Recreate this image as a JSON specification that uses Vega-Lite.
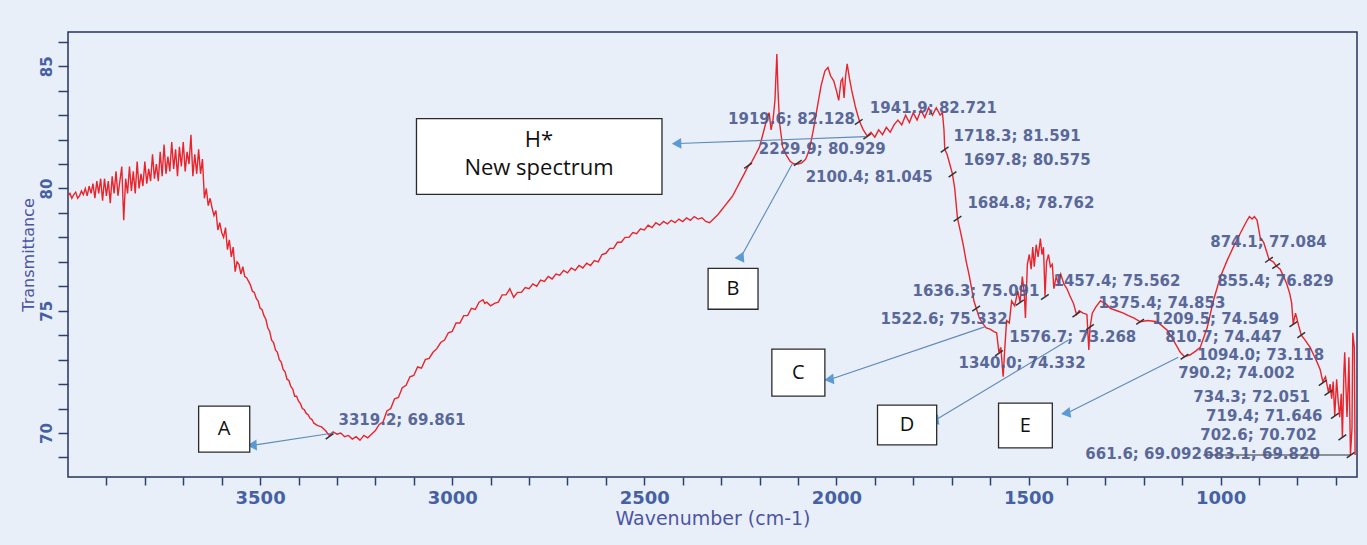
{
"$schema": "https://vega.github.io/schema/vega-lite/v6.json",
"width": 1289, "height": 445,
"autosize": {"type": "none"},
"padding": {"left": 68, "top": 32, "right": 10, "bottom": 68},
"background": "#e9eff8",
"config": {"view": {"stroke": "#23365f", "strokeWidth": 1.5, "fill": "#e9eff8"}},
"resolve": {"axis": {"x": "independent", "y": "independent"}},
"datasets": {
"spec": [
{"w":4000,"t":79.7},{"w":3995,"t":79.8},{"w":3990,"t":79.6},{"w":3985,"t":79.75},{"w":3980,"t":79.85},{"w":3975,"t":79.6},{"w":3970,"t":79.7},{"w":3965,"t":79.9},{"w":3960,"t":79.75},{"w":3955,"t":80.0},{"w":3950,"t":79.7},{"w":3945,"t":80.1},{"w":3940,"t":79.8},{"w":3935,"t":80.2},{"w":3930,"t":79.6},{"w":3925,"t":80.3},{"w":3920,"t":79.8},{"w":3915,"t":80.4},{"w":3910,"t":79.5},{"w":3905,"t":80.4},{"w":3900,"t":79.7},{"w":3895,"t":80.3},{"w":3890,"t":79.4},{"w":3885,"t":80.5},{"w":3880,"t":79.8},{"w":3875,"t":80.7},{"w":3870,"t":79.7},{"w":3865,"t":80.3},{"w":3860,"t":80.9},{"w":3855,"t":78.7},{"w":3850,"t":80.4},{"w":3845,"t":79.8},{"w":3840,"t":80.9},{"w":3835,"t":79.9},{"w":3830,"t":80.7},{"w":3825,"t":79.8},{"w":3820,"t":81.1},{"w":3815,"t":80.0},{"w":3810,"t":80.6},{"w":3805,"t":80.1},{"w":3800,"t":81.1},{"w":3795,"t":80.2},{"w":3790,"t":80.8},{"w":3785,"t":80.3},{"w":3780,"t":81.4},{"w":3775,"t":80.4},{"w":3770,"t":81.0},{"w":3765,"t":80.3},{"w":3760,"t":81.5},{"w":3755,"t":80.5},{"w":3750,"t":81.8},{"w":3745,"t":80.6},{"w":3740,"t":81.3},{"w":3735,"t":80.7},{"w":3730,"t":81.9},{"w":3725,"t":80.8},{"w":3720,"t":81.6},{"w":3715,"t":80.5},{"w":3710,"t":81.7},{"w":3705,"t":80.9},{"w":3700,"t":81.9},{"w":3695,"t":80.7},{"w":3690,"t":81.5},{"w":3685,"t":81.0},{"w":3680,"t":82.2},{"w":3675,"t":80.5},{"w":3670,"t":81.4},{"w":3665,"t":80.6},{"w":3660,"t":81.6},{"w":3655,"t":80.6},{"w":3650,"t":81.2},{"w":3645,"t":79.6},{"w":3640,"t":80.0},{"w":3635,"t":79.3},{"w":3630,"t":79.6},{"w":3625,"t":79.2},{"w":3620,"t":78.9},{"w":3615,"t":79.1},{"w":3610,"t":78.3},{"w":3605,"t":78.6},{"w":3600,"t":78.2},{"w":3595,"t":78.0},{"w":3590,"t":78.4},{"w":3585,"t":77.5},{"w":3580,"t":77.9},{"w":3575,"t":77.2},{"w":3570,"t":77.6},{"w":3565,"t":76.6},{"w":3560,"t":77.0},{"w":3555,"t":76.9},{"w":3550,"t":76.5},{"w":3545,"t":76.8},{"w":3540,"t":76.4},{"w":3535,"t":76.35},{"w":3530,"t":76.2},{"w":3525,"t":76.05},{"w":3520,"t":75.8},{"w":3515,"t":75.75},{"w":3510,"t":75.5},{"w":3505,"t":75.4},{"w":3500,"t":75.1},{"w":3495,"t":75.05},{"w":3490,"t":74.8},{"w":3485,"t":74.65},{"w":3480,"t":74.3},{"w":3475,"t":74.15},{"w":3470,"t":73.8},{"w":3465,"t":73.7},{"w":3460,"t":73.4},{"w":3455,"t":73.3},{"w":3450,"t":73.0},{"w":3445,"t":72.9},{"w":3440,"t":72.6},{"w":3435,"t":72.5},{"w":3430,"t":72.2},{"w":3425,"t":72.15},{"w":3420,"t":71.9},{"w":3415,"t":71.8},{"w":3410,"t":71.5},{"w":3405,"t":71.5},{"w":3400,"t":71.3},{"w":3395,"t":71.2},{"w":3390,"t":71.0},{"w":3385,"t":70.95},{"w":3380,"t":70.8},{"w":3375,"t":70.75},{"w":3370,"t":70.6},{"w":3365,"t":70.55},{"w":3360,"t":70.4},{"w":3350,"t":70.3},{"w":3340,"t":70.25},{"w":3330,"t":70.1},{"w":3320,"t":69.9},{"w":3310,"t":70.05},{"w":3300,"t":69.95},{"w":3290,"t":70.0},{"w":3280,"t":69.85},{"w":3270,"t":69.9},{"w":3260,"t":69.75},{"w":3250,"t":69.85},{"w":3240,"t":69.7},{"w":3230,"t":69.9},{"w":3220,"t":69.8},{"w":3210,"t":69.95},{"w":3200,"t":70.1},{"w":3190,"t":70.35},{"w":3180,"t":70.45},{"w":3170,"t":70.9},{"w":3160,"t":71.0},{"w":3150,"t":71.4},{"w":3140,"t":71.45},{"w":3130,"t":71.85},{"w":3120,"t":71.95},{"w":3110,"t":72.3},{"w":3100,"t":72.35},{"w":3090,"t":72.7},{"w":3080,"t":72.65},{"w":3070,"t":73.0},{"w":3060,"t":73.05},{"w":3050,"t":73.3},{"w":3040,"t":73.45},{"w":3030,"t":73.7},{"w":3020,"t":73.8},{"w":3010,"t":74.1},{"w":3000,"t":74.15},{"w":2990,"t":74.5},{"w":2980,"t":74.5},{"w":2970,"t":74.8},{"w":2960,"t":74.8},{"w":2950,"t":75.1},{"w":2940,"t":75.05},{"w":2930,"t":75.35},{"w":2920,"t":75.45},{"w":2915,"t":75.3},{"w":2910,"t":75.35},{"w":2900,"t":75.2},{"w":2890,"t":75.3},{"w":2880,"t":75.35},{"w":2870,"t":75.65},{"w":2860,"t":75.65},{"w":2850,"t":75.9},{"w":2840,"t":75.55},{"w":2830,"t":75.75},{"w":2820,"t":75.75},{"w":2810,"t":75.95},{"w":2800,"t":75.9},{"w":2790,"t":76.1},{"w":2780,"t":76.0},{"w":2770,"t":76.25},{"w":2760,"t":76.2},{"w":2750,"t":76.4},{"w":2740,"t":76.3},{"w":2730,"t":76.5},{"w":2720,"t":76.45},{"w":2710,"t":76.65},{"w":2700,"t":76.55},{"w":2690,"t":76.75},{"w":2680,"t":76.65},{"w":2670,"t":76.85},{"w":2660,"t":76.75},{"w":2650,"t":76.95},{"w":2640,"t":76.85},{"w":2630,"t":77.05},{"w":2620,"t":77.0},{"w":2610,"t":77.3},{"w":2600,"t":77.35},{"w":2590,"t":77.55},{"w":2580,"t":77.55},{"w":2570,"t":77.8},{"w":2560,"t":77.8},{"w":2550,"t":78.0},{"w":2540,"t":78.0},{"w":2530,"t":78.2},{"w":2520,"t":78.15},{"w":2510,"t":78.35},{"w":2500,"t":78.3},{"w":2490,"t":78.5},{"w":2480,"t":78.4},{"w":2470,"t":78.6},{"w":2460,"t":78.5},{"w":2450,"t":78.65},{"w":2440,"t":78.55},{"w":2430,"t":78.7},{"w":2420,"t":78.6},{"w":2410,"t":78.75},{"w":2400,"t":78.65},{"w":2390,"t":78.8},{"w":2380,"t":78.7},{"w":2370,"t":78.85},{"w":2360,"t":78.75},{"w":2350,"t":78.8},{"w":2340,"t":78.65},{"w":2330,"t":78.6},{"w":2320,"t":78.75},{"w":2310,"t":78.9},{"w":2300,"t":79.1},{"w":2290,"t":79.3},{"w":2280,"t":79.5},{"w":2270,"t":79.7},{"w":2260,"t":80.0},{"w":2250,"t":80.3},{"w":2240,"t":80.6},{"w":2230,"t":80.9},{"w":2220,"t":81.1},{"w":2210,"t":81.4},{"w":2200,"t":81.7},{"w":2190,"t":82.3},{"w":2180,"t":82.9},{"w":2175,"t":83.1},{"w":2170,"t":82.4},{"w":2165,"t":82.8},{"w":2160,"t":83.6},{"w":2155,"t":85.5},{"w":2152,"t":84.0},{"w":2148,"t":82.7},{"w":2140,"t":81.7},{"w":2130,"t":81.35},{"w":2120,"t":81.1},{"w":2110,"t":81.0},{"w":2100,"t":81.0},{"w":2090,"t":81.05},{"w":2080,"t":81.2},{"w":2070,"t":81.6},{"w":2060,"t":82.4},{"w":2050,"t":83.3},{"w":2040,"t":84.2},{"w":2030,"t":84.8},{"w":2022,"t":84.95},{"w":2015,"t":84.6},{"w":2007,"t":84.4},{"w":2000,"t":84.0},{"w":1994,"t":83.6},{"w":1988,"t":84.4},{"w":1984,"t":84.5},{"w":1980,"t":83.7},{"w":1976,"t":84.6},{"w":1972,"t":85.1},{"w":1966,"t":84.5},{"w":1960,"t":84.0},{"w":1950,"t":83.3},{"w":1940,"t":82.75},{"w":1930,"t":82.4},{"w":1920,"t":82.15},{"w":1910,"t":82.3},{"w":1900,"t":82.1},{"w":1890,"t":82.4},{"w":1880,"t":82.2},{"w":1870,"t":82.5},{"w":1860,"t":82.3},{"w":1850,"t":82.6},{"w":1840,"t":82.8},{"w":1830,"t":82.6},{"w":1820,"t":83.0},{"w":1810,"t":82.7},{"w":1800,"t":83.1},{"w":1790,"t":82.8},{"w":1780,"t":83.2},{"w":1770,"t":82.9},{"w":1760,"t":83.3},{"w":1750,"t":83.0},{"w":1740,"t":83.3},{"w":1730,"t":83.0},{"w":1724,"t":83.1},{"w":1720,"t":82.4},{"w":1718,"t":81.6},{"w":1712,"t":81.4},{"w":1705,"t":81.0},{"w":1698,"t":80.6},{"w":1692,"t":80.0},{"w":1685,"t":78.8},{"w":1678,"t":78.3},{"w":1670,"t":77.7},{"w":1662,"t":77.0},{"w":1655,"t":76.5},{"w":1648,"t":75.9},{"w":1642,"t":75.4},{"w":1636,"t":75.1},{"w":1628,"t":74.7},{"w":1620,"t":74.5},{"w":1610,"t":74.3},{"w":1600,"t":74.25},{"w":1590,"t":74.15},{"w":1583,"t":74.1},{"w":1577,"t":73.3},{"w":1572,"t":73.5},{"w":1566,"t":72.3},{"w":1562,"t":73.4},{"w":1557,"t":74.6},{"w":1550,"t":74.5},{"w":1544,"t":75.4},{"w":1536,"t":75.2},{"w":1528,"t":75.8},{"w":1522,"t":75.35},{"w":1516,"t":76.4},{"w":1511,"t":75.7},{"w":1508,"t":74.7},{"w":1503,"t":76.9},{"w":1498,"t":77.3},{"w":1493,"t":76.7},{"w":1489,"t":77.6},{"w":1485,"t":76.8},{"w":1480,"t":77.7},{"w":1475,"t":77.2},{"w":1469,"t":77.95},{"w":1465,"t":77.3},{"w":1461,"t":77.6},{"w":1457,"t":75.6},{"w":1453,"t":77.0},{"w":1448,"t":77.3},{"w":1443,"t":76.8},{"w":1438,"t":76.9},{"w":1434,"t":75.9},{"w":1428,"t":76.4},{"w":1422,"t":76.1},{"w":1416,"t":76.5},{"w":1408,"t":76.1},{"w":1400,"t":75.9},{"w":1392,"t":75.6},{"w":1383,"t":75.3},{"w":1375,"t":74.85},{"w":1368,"t":75.0},{"w":1358,"t":74.9},{"w":1348,"t":74.85},{"w":1343,"t":73.4},{"w":1340,"t":74.3},{"w":1334,"t":74.9},{"w":1325,"t":75.15},{"w":1313,"t":75.4},{"w":1300,"t":75.3},{"w":1287,"t":75.1},{"w":1270,"t":75.0},{"w":1253,"t":74.9},{"w":1240,"t":74.8},{"w":1225,"t":74.7},{"w":1209,"t":74.55},{"w":1190,"t":74.6},{"w":1165,"t":74.55},{"w":1150,"t":74.35},{"w":1139,"t":74.2},{"w":1123,"t":73.8},{"w":1105,"t":73.3},{"w":1094,"t":73.12},{"w":1079,"t":73.2},{"w":1065,"t":73.35},{"w":1053,"t":73.5},{"w":1035,"t":74.3},{"w":1019,"t":75.4},{"w":1001,"t":76.37},{"w":983,"t":77.06},{"w":967,"t":77.6},{"w":949,"t":78.16},{"w":931,"t":78.7},{"w":925,"t":78.85},{"w":918,"t":78.75},{"w":912,"t":78.85},{"w":905,"t":78.7},{"w":897,"t":78.0},{"w":888,"t":77.8},{"w":880,"t":77.4},{"w":874,"t":77.1},{"w":863,"t":77.0},{"w":855,"t":76.83},{"w":845,"t":76.7},{"w":836,"t":76.4},{"w":828,"t":76.1},{"w":820,"t":75.7},{"w":815,"t":75.3},{"w":811,"t":74.45},{"w":805,"t":74.9},{"w":797,"t":74.4},{"w":790,"t":74.0},{"w":780,"t":73.8},{"w":767,"t":73.5},{"w":758,"t":73.2},{"w":749,"t":72.9},{"w":741,"t":72.6},{"w":734,"t":72.1},{"w":727,"t":72.3},{"w":719,"t":71.65},{"w":715,"t":72.0},{"w":711,"t":71.4},{"w":707,"t":72.1},{"w":703,"t":70.7},{"w":698,"t":72.2},{"w":694,"t":71.3},{"w":690,"t":70.65},{"w":686,"t":71.6},{"w":683,"t":69.8},{"w":679,"t":72.5},{"w":677,"t":73.3},{"w":674,"t":72.0},{"w":671,"t":70.65},{"w":668,"t":72.0},{"w":666,"t":73.1},{"w":662,"t":69.1},{"w":658,"t":70.2},{"w":656,"t":74.1},{"w":652,"t":73.5},{"w":650,"t":69.1}
],
"peaks": [
{"w":3319.2,"t":69.861,"s":"3319.2; 69.861","lx":3296,"ly":70.53},
{"w":1919.6,"t":82.128,"s":"1919.6; 82.128","lx":2282,"ly":82.86},
{"w":2229.9,"t":80.929,"s":"2229.9; 80.929","lx":2202,"ly":81.63},
{"w":2100.4,"t":81.045,"s":"2100.4; 81.045","lx":2080,"ly":80.45},
{"w":1941.9,"t":82.721,"s":"1941.9; 82.721","lx":1913,"ly":83.31},
{"w":1718.3,"t":81.591,"s":"1718.3; 81.591","lx":1695,"ly":82.16},
{"w":1697.8,"t":80.575,"s":"1697.8; 80.575","lx":1669,"ly":81.18},
{"w":1684.8,"t":78.762,"s":"1684.8; 78.762","lx":1659,"ly":79.39},
{"w":1636.3,"t":75.091,"s":"1636.3; 75.091","lx":1802,"ly":75.8},
{"w":1457.4,"t":75.562,"s":"1457.4; 75.562","lx":1435,"ly":76.2},
{"w":1375.4,"t":74.853,"s":"1375.4; 74.853","lx":1318,"ly":75.31},
{"w":1522.6,"t":75.332,"s":"1522.6; 75.332","lx":1885,"ly":74.65},
{"w":1209.5,"t":74.549,"s":"1209.5; 74.549","lx":1178,"ly":74.65},
{"w":1576.7,"t":73.268,"s":"1576.7; 73.268","lx":1550,"ly":73.92},
{"w":810.7,"t":74.447,"s":"810.7; 74.447","lx":1144,"ly":73.92},
{"w":1340.0,"t":74.332,"s":"1340.0; 74.332","lx":1682,"ly":72.86},
{"w":1094.0,"t":73.118,"s":"1094.0; 73.118","lx":1061,"ly":73.18},
{"w":790.2,"t":74.002,"s":"790.2; 74.002","lx":1110,"ly":72.45},
{"w":874.1,"t":77.084,"s":"874.1; 77.084","lx":1027,"ly":77.8},
{"w":855.4,"t":76.829,"s":"855.4; 76.829","lx":1009,"ly":76.2},
{"w":734.3,"t":72.051,"s":"734.3; 72.051","lx":1071,"ly":71.47},
{"w":719.4,"t":71.646,"s":"719.4; 71.646","lx":1038,"ly":70.69},
{"w":702.6,"t":70.702,"s":"702.6; 70.702","lx":1053,"ly":69.92},
{"w":661.6,"t":69.092,"s":"661.6; 69.092","lx":1352,"ly":69.14},
{"w":683.1,"t":69.82,"s":"683.1; 69.820","lx":1045,"ly":69.14}
],
"arrows": [
{"n":"H","x1":1924,"y1":82.12,"x2":2412,"y2":81.84},
{"n":"A","x1":3309,"y1":70.0,"x2":3517,"y2":69.5},
{"n":"B","x1":2115,"y1":81.0,"x2":2249,"y2":77.18},
{"n":"C","x1":1612,"y1":74.35,"x2":2015,"y2":72.2},
{"n":"D","x1":1396,"y1":73.8,"x2":1742,"y2":70.53},
{"n":"E","x1":1110,"y1":73.1,"x2":1399,"y2":70.82}
],
"boxes": [
{"n":"H","s":"H*\nNew spectrum","x1":3093,"x2":2454,"y1":82.86,"y2":79.76,"cx":2774,"cy":82.0},
{"n":"A","s":"A","x1":3660,"x2":3527,"y1":71.1,"y2":69.22,"cx":3594,"cy":70.16},
{"n":"B","s":"B","x1":2334,"x2":2204,"y1":76.73,"y2":75.06,"cx":2269,"cy":75.9},
{"n":"C","s":"C","x1":2168,"x2":2030,"y1":73.43,"y2":71.51,"cx":2099,"cy":72.47},
{"n":"D","s":"D","x1":1893,"x2":1739,"y1":71.14,"y2":69.51,"cx":1816,"cy":70.33},
{"n":"E","s":"E","x1":1578,"x2":1438,"y1":71.22,"y2":69.39,"cx":1508,"cy":70.3}
],
"leaders": [
{"x1":1045,"y1":69.1,"x2":662,"y2":69.1}
]
},
"layer": [
{
"data": {"name": "spec"},
"mark": {"type": "line", "color": "#e8242c", "strokeWidth": 1.4, "clip": true},
"encoding": {
"x": {"field": "w", "type": "quantitative", "sort": null,
"scale": {"domain": [645, 4000], "reverse": true, "nice": false, "zero": false},
"axis": {"title": "Wavenumber (cm-1)", "values": [700,800,900,1000,1100,1200,1300,1400,1500,1600,1700,1800,1900,2000,2100,2200,2300,2400,2500,2600,2700,2800,2900,3000,3100,3200,3300,3400,3500,3600,3700,3800,3900],
"format": "d", "labelExpr": "datum.value % 500 === 0 ? datum.label : ''", "labelOverlap": false, "labelFlush": false,
"grid": false, "domain": false, "tickSize": 8, "tickColor": "#2b4170", "tickWidth": 1.5,
"labelFont": "DejaVu Sans", "labelFontSize": 18, "labelFontWeight": "bold", "labelColor": "#4661a3", "labelPadding": 4,
"titleFont": "DejaVu Sans", "titleFontSize": 19, "titleFontWeight": "normal", "titleColor": "#4c55a3", "titlePadding": 2}},
"y": {"field": "t", "type": "quantitative",
"scale": {"domain": [68.2, 86.4], "nice": false, "zero": false},
"axis": {"title": "Transmittance", "values": [69,70,71,72,73,74,75,76,77,78,79,80,81,82,83,84,85,86],
"labelExpr": "datum.value % 5 === 0 ? datum.label : ''", "labelOverlap": false, "labelFlush": false,
"grid": false, "domain": false, "tickSize": 10, "tickColor": "#2b4170", "tickWidth": 1.5,
"labelAngle": 270, "labelAlign": "center", "labelBaseline": "bottom",
"labelFont": "DejaVu Sans", "labelFontSize": 15, "labelFontWeight": "bold", "labelColor": "#4661a3", "labelPadding": 4,
"titleFont": "DejaVu Sans", "titleFontSize": 16, "titleFontWeight": "normal", "titleColor": "#4c55a3", "titlePadding": 3}}
}
},
{
"data": {"name": "leaders"},
"mark": {"type": "rule", "color": "#333333", "strokeWidth": 1.2},
"encoding": {
"x": {"field": "x1", "type": "quantitative", "scale": {"domain": [645, 4000], "reverse": true, "nice": false, "zero": false}, "axis": null},
"x2": {"field": "x2"},
"y": {"field": "y1", "type": "quantitative", "scale": {"domain": [68.2, 86.4], "nice": false, "zero": false}, "axis": null},
"y2": {"field": "y2"}
}
},
{
"data": {"name": "arrows"},
"mark": {"type": "rule", "color": "#5f88bb", "strokeWidth": 1.1},
"encoding": {
"x": {"field": "x1", "type": "quantitative", "scale": {"domain": [645, 4000], "reverse": true, "nice": false, "zero": false}, "axis": null},
"x2": {"field": "x2"},
"y": {"field": "y1", "type": "quantitative", "scale": {"domain": [68.2, 86.4], "nice": false, "zero": false}, "axis": null},
"y2": {"field": "y2"}
}
},
{
"data": {"name": "arrows"},
"mark": {"type": "point", "shape": "triangle", "filled": true, "color": "#5b9bd5", "size": 120, "opacity": 1},
"encoding": {
"x": {"field": "x2", "type": "quantitative", "scale": {"domain": [645, 4000], "reverse": true, "nice": false, "zero": false}, "axis": null},
"y": {"field": "y2", "type": "quantitative", "scale": {"domain": [68.2, 86.4], "nice": false, "zero": false}, "axis": null},
"angle": {"field": "n", "type": "nominal", "legend": null, "scale": {"domain": ["H","A","B","C","D","E"], "range": [268,261,207,251,239,243]}}
}
},
{
"data": {"name": "boxes"},
"mark": {"type": "rect", "fill": "#ffffff", "stroke": "#2a2a2a", "strokeWidth": 1.3},
"encoding": {
"x": {"field": "x1", "type": "quantitative", "scale": {"domain": [645, 4000], "reverse": true, "nice": false, "zero": false}, "axis": null},
"x2": {"field": "x2"},
"y": {"field": "y1", "type": "quantitative", "scale": {"domain": [68.2, 86.4], "nice": false, "zero": false}, "axis": null},
"y2": {"field": "y2"}
}
},
{
"data": {"name": "boxes"},
"transform": [{"filter": "datum.n === 'H'"}],
"mark": {"type": "text", "font": "Open Sans", "fontSize": 22, "color": "#111111", "align": "center", "baseline": "middle", "lineBreak": "\n", "lineHeight": 28},
"encoding": {
"x": {"field": "cx", "type": "quantitative", "scale": {"domain": [645, 4000], "reverse": true, "nice": false, "zero": false}, "axis": null},
"y": {"field": "cy", "type": "quantitative", "scale": {"domain": [68.2, 86.4], "nice": false, "zero": false}, "axis": null},
"text": {"field": "s"}
}
},
{
"data": {"name": "boxes"},
"transform": [{"filter": "datum.n !== 'H'"}],
"mark": {"type": "text", "font": "Open Sans", "fontSize": 20, "color": "#111111", "align": "center", "baseline": "middle"},
"encoding": {
"x": {"field": "cx", "type": "quantitative", "scale": {"domain": [645, 4000], "reverse": true, "nice": false, "zero": false}, "axis": null},
"y": {"field": "cy", "type": "quantitative", "scale": {"domain": [68.2, 86.4], "nice": false, "zero": false}, "axis": null},
"text": {"field": "s"}
}
},
{
"data": {"name": "peaks"},
"mark": {"type": "point", "shape": "M-1,0.7L1,-0.7", "filled": false, "stroke": "#333333", "strokeWidth": 1.5, "size": 60, "opacity": 1},
"encoding": {
"x": {"field": "w", "type": "quantitative", "scale": {"domain": [645, 4000], "reverse": true, "nice": false, "zero": false}, "axis": null},
"y": {"field": "t", "type": "quantitative", "scale": {"domain": [68.2, 86.4], "nice": false, "zero": false}, "axis": null}
}
},
{
"data": {"name": "peaks"},
"mark": {"type": "text", "font": "DejaVu Sans", "fontSize": 15, "fontWeight": "bold", "color": "#4b5a8f", "align": "left", "baseline": "middle", "opacity": 0.9},
"encoding": {
"x": {"field": "lx", "type": "quantitative", "scale": {"domain": [645, 4000], "reverse": true, "nice": false, "zero": false}, "axis": null},
"y": {"field": "ly", "type": "quantitative", "scale": {"domain": [68.2, 86.4], "nice": false, "zero": false}, "axis": null},
"text": {"field": "s"}
}
}
]
}
